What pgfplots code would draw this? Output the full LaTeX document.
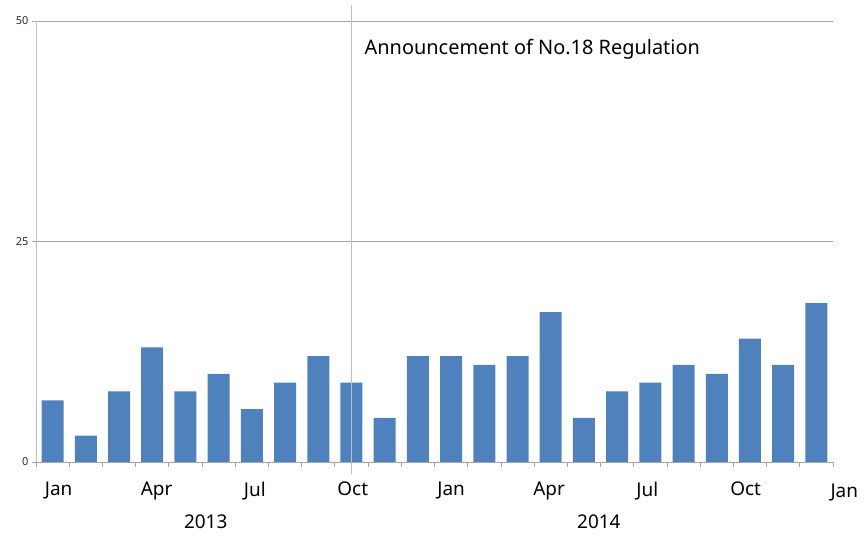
\documentclass[border=0pt]{standalone}
\usepackage{pgfplots}
\pgfplotsset{compat=1.18}
\usepackage{fontspec}
\setmainfont{Noto Sans}
\definecolor{barblue}{HTML}{4F81BD}
\definecolor{gridgray}{HTML}{A6A6A6}
\definecolor{axgray}{HTML}{BFBFBF}
\definecolor{ticknavy}{HTML}{262640}
\begin{document}
\begin{tikzpicture}[x=1bp,y=1bp]
\path[use as bounding box] (-36bp,-76bp) rectangle (829bp,462bp);
\begin{axis}[
  at={(0,0)}, anchor=south west,
  scale only axis, width=797bp, height=441bp,
  xmin=-0.5, xmax=23.5, ymin=0, ymax=50,
  axis x line=bottom, axis y line=left,
  axis line style={-, draw=gridgray, line width=0.8bp},
  y axis line style={draw=axgray},
  ytick={0,25,50},
  ymajorgrids, grid style={draw=gridgray, line width=0.8bp},
  yticklabel style={font=\fontsize{11}{12}\selectfont, text=ticknavy},
  xtick={0.18,3.13,6.09,9.04,12.0,14.95,17.91,20.87},
  xticklabels={Jan,Apr,Jul,Oct,Jan,Apr,Jul,Oct},
  xticklabel style={font=\fontsize{19}{22}\selectfont, text=black, yshift=-12.5bp},
  minor xtick={-0.5,0.5,...,23.5},
  major x tick style={draw=none},
  minor x tick style={draw=gridgray, line width=0.8bp},
  y tick style={draw=gridgray, line width=0.8bp},
  tick align=outside,
  major tick length=4bp, minor tick length=5bp,
  clip=false,
  /pgf/number format/assume math mode=true,
]
\addplot[ybar, bar width=22bp, fill=barblue, draw=none] coordinates {
(0,7) (1,3) (2,8) (3,13) (4,8) (5,10) (6,6) (7,9) (8,12) (9,9) (10,5) (11,12)
(12,12) (13,11) (14,12) (15,17) (16,5) (17,8) (18,9) (19,11) (20,10) (21,14) (22,11) (23,18)
};
\addplot[draw=axgray, line width=0.8bp] coordinates {(9,-1.4) (9,51.8)};
\node[anchor=west, inner sep=0pt, font=\fontsize{20}{24}\selectfont] at (axis cs:9,46.8) [xshift=13bp] {Announcement of No.18 Regulation};
\node[font=\fontsize{19}{22}\selectfont, inner sep=0pt] at (axis cs:23.84,0) [yshift=-30.5bp] {Jan};
\node[font=\fontsize{19}{22}\selectfont, inner sep=0pt] at (axis cs:4.61,0) [yshift=-60bp] {2013};
\node[font=\fontsize{19}{22}\selectfont, inner sep=0pt] at (axis cs:16.45,0) [yshift=-60bp] {2014};
\end{axis}
\end{tikzpicture}
\end{document}
